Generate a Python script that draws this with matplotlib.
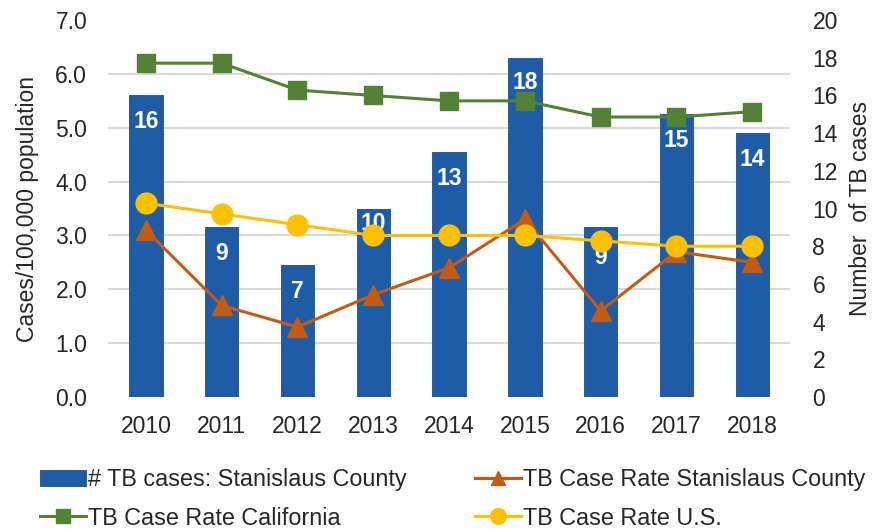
import numpy as np
import matplotlib
matplotlib.use("Agg")
import matplotlib.pyplot as plt
import matplotlib.ticker as mticker

plt.rcParams['font.family'] = ['Liberation Sans', 'DejaVu Sans']
plt.rcParams['text.color'] = '#262626'
plt.rcParams['xtick.color'] = '#262626'
plt.rcParams['ytick.color'] = '#262626'
plt.rcParams['axes.labelcolor'] = '#262626'

# Données
years = ['2010', '2011', '2012', '2013', '2014', '2015', '2016', '2017', '2018']
cases_stanislaus = [16, 9, 7, 10, 13, 18, 9, 15, 14]
rate_stanislaus = [3.1, 1.7, 1.3, 1.9, 2.4, 3.3, 1.6, 2.7, 2.5]
rate_california = [6.2, 6.2, 5.7, 5.6, 5.5, 5.5, 5.2, 5.2, 5.3]
rate_us = [3.6, 3.4, 3.2, 3.0, 3.0, 3.0, 2.9, 2.8, 2.8]
left_ticks = np.arange(0, 7.01, 1.0)
right_ticks = np.arange(0, 21, 2)

c_bar = '#1E5CA8'
c_orange = '#C55A11'
c_green = '#538135'
c_yellow = '#FFC000'
c_grid = '#D9D9D9'
fs = 16.5

# décalage (points) des étiquettes sous le haut des barres
label_offsets = [-19, -19, -19, -11, -19, -18, -22, -19, -19]

fig = plt.figure(figsize=(8.78, 5.29), dpi=100)
x = np.arange(len(years))

# Axe des barres (droite) dessous, axe des taux (gauche) dessus
ax_bar = fig.add_axes([0.123, 0.2495, 0.777, 0.7125])
ax = ax_bar.twinx()
ax_bar.yaxis.tick_right()
ax_bar.yaxis.set_label_position('right')
ax.yaxis.tick_left()
ax.yaxis.set_label_position('left')

ax_bar.set_ylim(0, 20)
ax_bar.set_xlim(-0.5, len(years) - 0.5)
ax_bar.set_yticks(right_ticks)
ax_bar.yaxis.set_minor_locator(mticker.FixedLocator(left_ticks * 20 / 7))
ax_bar.grid(which='minor', axis='y', color=c_grid, linewidth=1.5)
ax_bar.set_axisbelow(True)
ax_bar.tick_params(which='both', length=0)
ax_bar.tick_params(axis='y', labelsize=fs, pad=16)
ax_bar.tick_params(axis='x', labelsize=fs, pad=13)
ax_bar.set_xticks(x)
ax_bar.set_xticklabels(years)
for s in ax_bar.spines.values():
    s.set_visible(False)

bars = ax_bar.bar(x, cases_stanislaus, width=0.44, color=c_bar,
                  edgecolor='#1A4F91', linewidth=0.6,
                  label='# TB cases: Stanislaus County', zorder=2)
for xi, v, off in zip(x, cases_stanislaus, label_offsets):
    ax_bar.annotate(str(v), (xi, v), xytext=(0, off), textcoords='offset points',
                    ha='center', va='center', color='white', fontsize=fs,
                    fontweight='bold', zorder=3)
ax_bar.set_ylabel('Number  of TB cases', fontsize=fs, labelpad=8)

ax.set_ylim(0, 7)
ax.set_yticks(left_ticks)
ax.yaxis.set_major_formatter(mticker.FormatStrFormatter('%.1f'))
ax.tick_params(which='both', length=0, labelsize=fs, pad=15)
for s in ax.spines.values():
    s.set_visible(False)

l_sta, = ax.plot(x, rate_stanislaus, color=c_orange, lw=2.2, marker='^',
                 markersize=14, label='TB Case Rate Stanislaus County')
l_ca, = ax.plot(x, rate_california, color=c_green, lw=2.2, marker='s',
                markersize=13, label='TB Case Rate California')
l_us, = ax.plot(x, rate_us, color=c_yellow, lw=2.2, marker='o',
                markersize=15, label='TB Case Rate U.S.')
ax.set_ylabel('Cases/100,000 population', fontsize=fs, labelpad=12)

# Légende
fig.legend([bars, l_ca, l_sta, l_us],
           [bars.get_label(), l_ca.get_label(), l_sta.get_label(), l_us.get_label()],
           loc='upper left', bbox_to_anchor=(40 / 878, 1 - 468 / 529),
           ncol=2, frameon=False, fontsize=16.8, borderpad=0, borderaxespad=0,
           handlelength=1.97, handletextpad=0.1, columnspacing=2.9,
           labelspacing=0.67, markerscale=0.75)

plt.savefig('out.png', dpi=100)
plt.close()
